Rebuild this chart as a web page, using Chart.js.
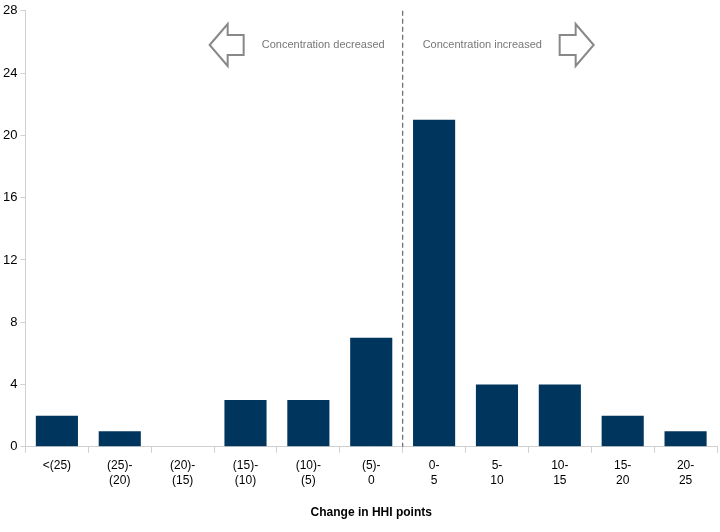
<!DOCTYPE html>
<html>
<head>
<meta charset="utf-8">
<script src="https://cdn.jsdelivr.net/npm/chart.js@4"></script>
<style>
  body { margin: 0; background: #fff; }
  #wrap { width: 720px; height: 532px; }
</style>
</head>
<body>
<div id="wrap"><canvas id="c"></canvas></div>
<script>
const categories = [['<(25)'], ['(25)-', '(20)'], ['(20)-', '(15)'], ['(15)-', '(10)'], ['(10)-', '(5)'], ['(5)-', '0'],
  ['0-', '5'], ['5-', '10'], ['10-', '15'], ['15-', '20'], ['20-', '25']];
const counts = [2, 1, 0, 3, 3, 7, 21, 4, 4, 2, 1];
const yTicks = [0, 4, 8, 12, 16, 20, 24, 28];

// dashed divider + arrows with labels
const notes = {
  id: 'notes',
  afterDraw(chart) {
    const ctx = chart.ctx;
    const x = chart.scales.x, y = chart.scales.y;
    const area = chart.chartArea;
    const mid = x.getPixelForValue(5.5);
    ctx.save();
    ctx.strokeStyle = '#666';
    ctx.lineWidth = 1.2;
    ctx.setLineDash([5, 3]);
    ctx.beginPath();
    ctx.moveTo(mid, area.top);
    ctx.lineTo(mid, area.bottom);
    ctx.stroke();
    ctx.setLineDash([]);

    const cy = 45;
    function arrow(tipX, dir) {
      // dir: -1 left, +1 right
      const hl = 18, bl = 16, hh = 21, bh = 10;
      const b = tipX - dir * hl;
      const e = b - dir * bl;
      ctx.beginPath();
      ctx.moveTo(tipX, cy);
      ctx.lineTo(b, cy - hh);
      ctx.lineTo(b, cy - bh);
      ctx.lineTo(e, cy - bh);
      ctx.lineTo(e, cy + bh);
      ctx.lineTo(b, cy + bh);
      ctx.lineTo(b, cy + hh);
      ctx.closePath();
      ctx.fillStyle = '#fff';
      ctx.fill();
      ctx.strokeStyle = '#888';
      ctx.lineWidth = 2;
      ctx.stroke();
    }
    arrow(mid - 193, -1);
    arrow(mid + 191, 1);

    ctx.fillStyle = '#777';
    ctx.font = '11px "Liberation Sans", Arial, sans-serif';
    ctx.textBaseline = 'middle';
    ctx.textAlign = 'right';
    ctx.fillText('Concentration decreased', mid - 18, cy);
    ctx.textAlign = 'left';
    ctx.fillText('Concentration increased', mid + 20, cy);
    ctx.restore();
  }
};

new Chart(document.getElementById('c'), {
  type: 'bar',
  data: {
    labels: categories,
    datasets: [{
      data: counts,
      backgroundColor: '#00365e',
      categoryPercentage: 1,
      barPercentage: 0.67
    }]
  },
  options: {
    responsive: true,
    maintainAspectRatio: false,
    animation: false,
    layout: { padding: { top: 10, right: 3, left: 0, bottom: 8 } },
    plugins: { legend: { display: false }, tooltip: { enabled: false } },
    scales: {
      x: {
        grid: { display: true, drawOnChartArea: false, offset: true, color: '#d0d0d0', tickLength: 6 },
        border: { color: '#d0d0d0' },
        ticks: { color: '#000', font: { family: '"Liberation Sans", Arial', size: 12 }, maxRotation: 0, padding: 6 },
        title: { display: true, text: 'Change in HHI points', color: '#000', font: { family: '"Liberation Sans", Arial', size: 12, weight: 'bold' }, padding: { top: 12 } }
      },
      y: {
        min: 0, max: 28,
        afterBuildTicks(s) { s.ticks = yTicks.map(v => ({ value: v })); },
        grid: { display: true, drawOnChartArea: false, color: '#d0d0d0', tickLength: 5 },
        border: { color: '#d0d0d0' },
        ticks: { color: '#000', font: { family: '"Liberation Sans", Arial', size: 13 }, padding: 3 }
      }
    }
  },
  plugins: [notes]
});
</script>
</body>
</html>
